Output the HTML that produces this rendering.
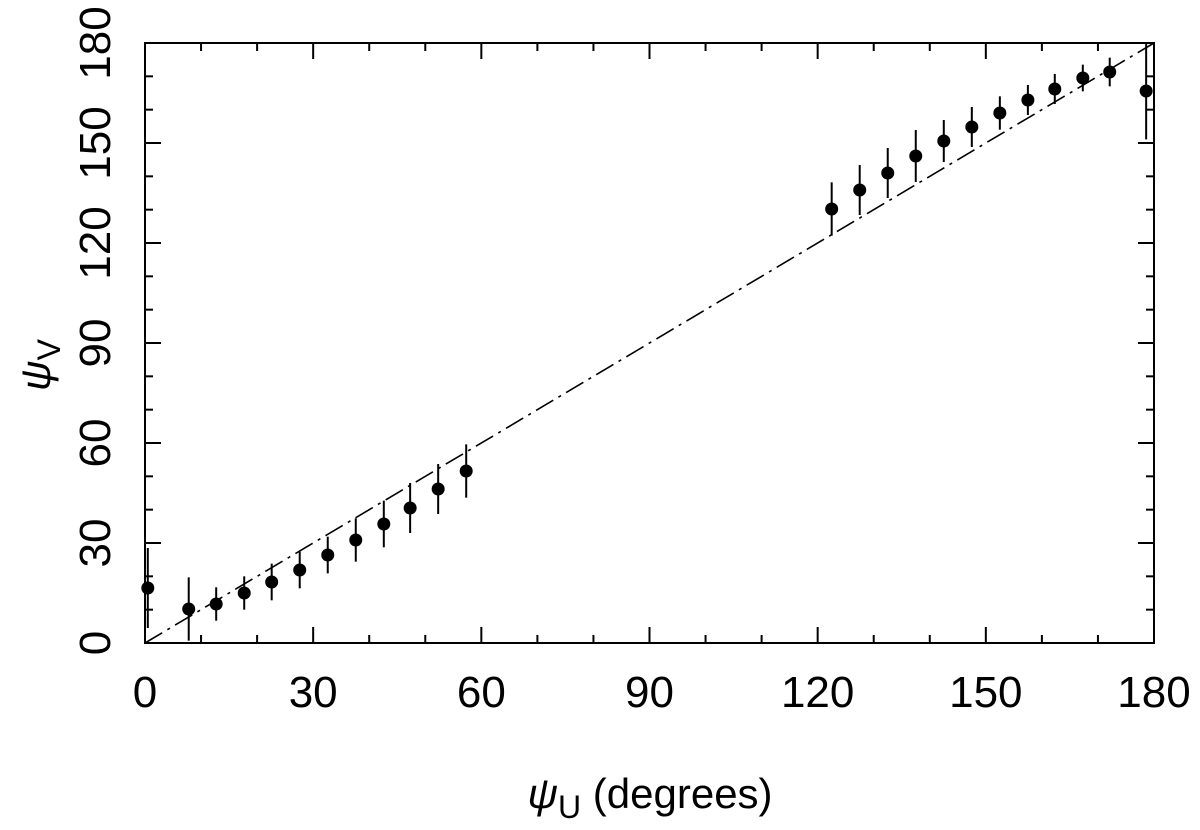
<!DOCTYPE html>
<html><head><meta charset="utf-8"><style>
html,body{margin:0;padding:0;background:#fff;}
svg text{font-family:"Liberation Sans",sans-serif;fill:#000;}
</style></head><body>
<svg id="chart" width="1200" height="825" xmlns="http://www.w3.org/2000/svg">
<g id="axes"></g><g id="series"></g>
<text x="650" y="808" font-size="42" text-anchor="middle"><tspan font-style="italic">ψ</tspan><tspan font-size="32" dy="10">U</tspan><tspan dy="-10"> (degrees)</tspan></text>
<text transform="translate(50,365) rotate(-90)" font-size="42" text-anchor="middle"><tspan font-style="italic">ψ</tspan><tspan font-size="32" dy="10">V</tspan></text>
</svg>
<script>
const xVals=[0.5,7.8,12.7,17.7,22.6,27.6,32.6,37.6,42.6,47.3,52.3,57.3,122.5,127.5,132.5,137.5,142.5,147.5,152.5,157.5,162.3,167.3,172.1,178.6];
const yVals=[16.5,10.2,11.7,15,18.3,21.9,26.4,30.9,35.7,40.5,46.2,51.6,130.2,135.9,141,146.1,150.6,154.8,159,162.9,166.2,169.5,171.3,165.6];
const yErr=[12,9.5,5,5,5.5,5.5,5.5,6.5,7,7.5,7.5,8,8,7.5,7.5,7.8,6.3,6,5,4.5,4.5,4,4.3,14.5];
const tickVals=[0,30,60,90,120,150,180];
const minorVals=[10,20,40,50,70,80,100,110,130,140,160,170];
const X0=145,X1=1154,Y0=643,Y1=43;
const sx=v=>X0+(v/180)*(X1-X0), sy=v=>Y0-(v/180)*(Y0-Y1);
const NS="http://www.w3.org/2000/svg";
const ax=document.getElementById('axes'), se=document.getElementById('series');
function mk(tag,attrs,parent){const e=document.createElementNS(NS,tag);for(const k in attrs)e.setAttribute(k,attrs[k]);parent.appendChild(e);return e;}
const frame=mk('rect',{x:X0,y:Y1,width:X1-X0,height:Y0-Y1,fill:'none',stroke:'#000','stroke-width':2},ax);


function ticks(vals,len){vals.forEach(v=>{
 const x=sx(v),y=sy(v);
 mk('line',{x1:x,x2:x,y1:Y0,y2:Y0-len,stroke:'#000','stroke-width':2},ax);
 mk('line',{x1:x,x2:x,y1:Y1,y2:Y1+len,stroke:'#000','stroke-width':2},ax);
 mk('line',{x1:X0,x2:X0+len,y1:y,y2:y,stroke:'#000','stroke-width':2},ax);
 mk('line',{x1:X1,x2:X1-len,y1:y,y2:y,stroke:'#000','stroke-width':2},ax);
});}
ticks(tickVals,16);ticks(minorVals,8);
tickVals.forEach(v=>{
 const t=mk('text',{x:sx(v),y:707,'font-size':44,'text-anchor':'middle'},ax);t.textContent=v;
 
 
 const u=mk('text',{transform:`translate(110,${sy(v)}) rotate(-90)`,'font-size':44,'text-anchor':'middle'},ax);u.textContent=v;
 
 
});
const ref=mk('line',{x1:sx(0),y1:sy(0),x2:sx(180),y2:sy(180),stroke:'#000','stroke-width':1.6,'stroke-dasharray':'20 6 3 6'},se);


xVals.forEach((xv,i)=>{
 const x=sx(xv);
 const e=mk('line',{x1:x,x2:x,y1:Math.max(Y1,sy(yVals[i]+yErr[i])),y2:Math.min(Y0,sy(yVals[i]-yErr[i])),stroke:'#000','stroke-width':2},se);
 
 
 const c=mk('circle',{cx:x,cy:sy(yVals[i]),r:6.5,fill:'#000'},se);
 
 
});
</script>
</body></html>
